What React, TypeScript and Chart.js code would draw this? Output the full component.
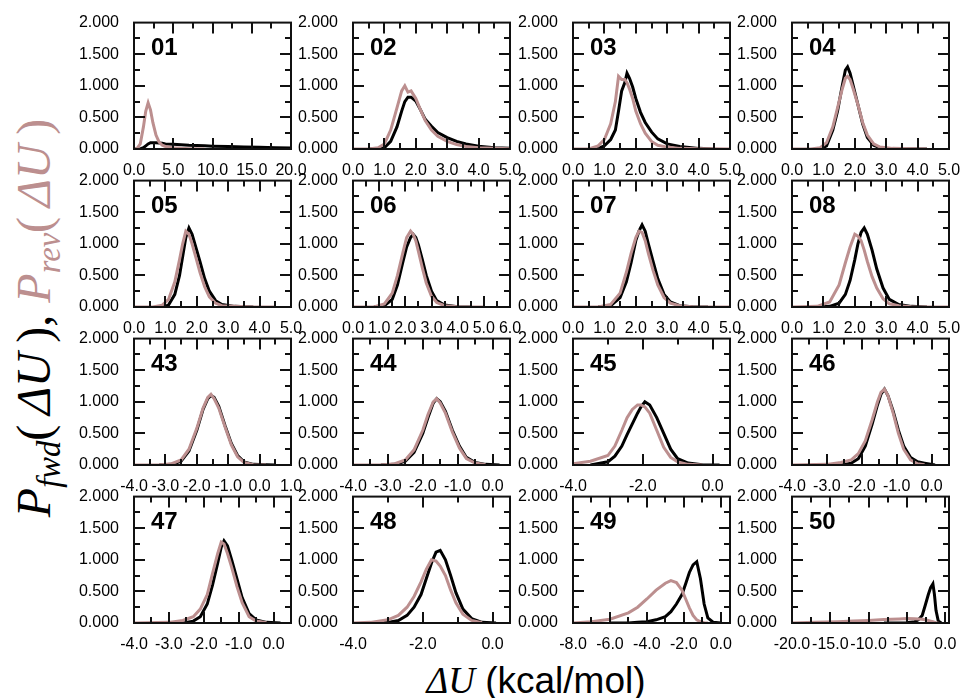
import React, { useEffect, useRef } from "react";
import { Chart, registerables } from "chart.js";

Chart.register(...registerables);

const FWD_COLOR = "#000000";
const REV_COLOR = "#bc8f8f";

// ---- histogram data: ΔU (kcal/mol) grid, forward and reverse densities ----
const x01 = [0, 0.4, 0.8, 1.2, 1.5, 1.8, 2.1, 2.4, 2.8, 3.2, 3.6, 4.0, 5, 6, 7, 8, 9, 10, 12, 14, 16, 18, 20];
const fwd01 = [0, 0, 0, 0.02, 0.05, 0.08, 0.1, 0.1, 0.1, 0.095, 0.09, 0.08, 0.075, 0.068, 0.06, 0.055, 0.05, 0.045, 0.038, 0.032, 0.026, 0.02, 0.015];
const rev01 = [0, 0.01, 0.08, 0.35, 0.6, 0.73, 0.62, 0.42, 0.22, 0.11, 0.06, 0.04, 0.02, 0.01, 0.005, 0.002, 0, null, null, null, null, null, null];

const x02 = [0, 0.5, 0.8, 1.0, 1.2, 1.4, 1.55, 1.65, 1.75, 1.85, 2.0, 2.15, 2.3, 2.5, 2.7, 3.0, 3.3, 3.6, 4.0, 4.5, 5.0];
const fwd02 = [null, 0, 0, 0.02, 0.12, 0.35, 0.6, 0.75, 0.82, 0.82, 0.76, 0.62, 0.47, 0.36, 0.26, 0.18, 0.12, 0.08, 0.045, 0.02, 0.01];
const rev02 = [0, 0, 0.02, 0.08, 0.3, 0.65, 0.92, 1.0, 0.9, 0.92, 0.8, 0.62, 0.45, 0.3, 0.2, 0.12, 0.07, 0.04, 0.02, 0.01, 0.005];

const x03 = [0, 0.5, 0.8, 1.0, 1.2, 1.35, 1.45, 1.55, 1.65, 1.72, 1.8, 1.9, 2.0, 2.15, 2.3, 2.5, 2.7, 3.0, 3.4, 4.0, 4.5, 5.0];
const fwd03 = [null, 0, 0.01, 0.05, 0.15, 0.3, 0.6, 0.92, 1.05, 1.2, 1.12, 0.98, 0.8, 0.58, 0.42, 0.27, 0.16, 0.08, 0.04, 0.01, 0, null];
const rev03 = [0, 0, 0.05, 0.15, 0.4, 0.75, 1.15, 1.1, 1.1, 1.05, 0.95, 0.8, 0.6, 0.4, 0.25, 0.12, 0.06, 0.03, 0.01, 0.005, 0.002, 0];

const x04 = [0, 0.6, 0.9, 1.1, 1.3, 1.45, 1.6, 1.7, 1.77, 1.85, 1.95, 2.1, 2.25, 2.4, 2.6, 2.8, 3.2, 3.8, 4.3, 5];
const fwd04 = [null, null, 0, 0.05, 0.3, 0.6, 1.0, 1.25, 1.3, 1.2, 1.0, 0.7, 0.4, 0.18, 0.06, 0.02, 0, 0, 0, null];
const rev04 = [0, 0, 0.02, 0.1, 0.35, 0.65, 0.95, 1.12, 1.15, 1.1, 0.95, 0.7, 0.42, 0.22, 0.08, 0.03, 0.01, 0.005, 0, null];

const x05 = [0, 0.6, 0.9, 1.1, 1.3, 1.45, 1.55, 1.65, 1.75, 1.85, 1.95, 2.1, 2.25, 2.4, 2.6, 2.8, 3.2, 3.8, 4.5, 5];
const fwd05 = [null, null, 0, 0.03, 0.2, 0.5, 0.8, 1.1, 1.25, 1.15, 0.98, 0.72, 0.45, 0.25, 0.1, 0.04, 0.01, 0, null, null];
const rev05 = [0, 0, 0.03, 0.12, 0.4, 0.75, 1.0, 1.2, 1.15, 1.0, 0.82, 0.55, 0.32, 0.16, 0.06, 0.02, 0.01, 0, 0, null];

const x06 = [0, 0.8, 1.2, 1.5, 1.7, 1.9, 2.05, 2.2, 2.3, 2.4, 2.5, 2.65, 2.8, 3.0, 3.2, 3.5, 4.0, 4.5, 5.0];
const fwd06 = [null, 0, 0.02, 0.12, 0.35, 0.7, 0.95, 1.1, 1.15, 1.1, 0.98, 0.75, 0.5, 0.25, 0.1, 0.03, 0.005, 0, null];
const rev06 = [0, 0, 0.05, 0.22, 0.5, 0.85, 1.1, 1.2, 1.15, 1.05, 0.88, 0.62, 0.38, 0.17, 0.07, 0.02, 0.005, 0, 0];

const x07 = [0, 0.8, 1.2, 1.5, 1.7, 1.85, 2.0, 2.1, 2.2, 2.3, 2.4, 2.55, 2.7, 2.9, 3.1, 3.4, 3.8, 4.3, 5];
const fwd07 = [null, 0, 0.02, 0.15, 0.4, 0.7, 1.05, 1.2, 1.3, 1.2, 1.0, 0.72, 0.45, 0.2, 0.08, 0.02, 0.005, 0, null];
const rev07 = [0, 0, 0.04, 0.22, 0.55, 0.85, 1.1, 1.2, 1.18, 1.05, 0.85, 0.58, 0.35, 0.15, 0.06, 0.02, 0.005, 0, 0];

const x08 = [0, 0.8, 1.2, 1.5, 1.7, 1.85, 2.0, 2.1, 2.2, 2.3, 2.4, 2.55, 2.7, 2.9, 3.1, 3.4, 3.8, 4.3, 5];
const fwd08 = [null, 0, 0.01, 0.06, 0.2, 0.42, 0.75, 1.0, 1.18, 1.25, 1.15, 0.9, 0.6, 0.3, 0.12, 0.04, 0.01, 0, null];
const rev08 = [0, 0.01, 0.08, 0.35, 0.7, 0.95, 1.15, 1.12, 1.05, 0.9, 0.72, 0.48, 0.3, 0.13, 0.05, 0.02, 0.005, 0, 0];

const x43 = [-4, -3.2, -2.8, -2.5, -2.25, -2.0, -1.8, -1.65, -1.55, -1.45, -1.3, -1.1, -0.9, -0.7, -0.5, -0.2, 0.2, 0.5];
const fwd43 = [null, 0, 0.01, 0.06, 0.22, 0.55, 0.88, 1.05, 1.1, 1.07, 0.93, 0.62, 0.34, 0.15, 0.05, 0.01, 0.003, 0];
const rev43 = [0, 0, 0.02, 0.08, 0.25, 0.58, 0.9, 1.07, 1.12, 1.05, 0.9, 0.6, 0.32, 0.13, 0.04, 0.005, 0, null];

const x44 = [-4, -3.2, -2.8, -2.5, -2.25, -2.0, -1.85, -1.7, -1.6, -1.5, -1.35, -1.15, -0.95, -0.75, -0.5, -0.2, 0.2];
const fwd44 = [null, 0, 0.01, 0.06, 0.2, 0.5, 0.75, 0.98, 1.05, 1.0, 0.85, 0.55, 0.3, 0.12, 0.04, 0.01, 0];
const rev44 = [0, 0, 0.02, 0.08, 0.24, 0.55, 0.8, 1.0, 1.05, 0.98, 0.82, 0.52, 0.27, 0.1, 0.03, 0.005, null];

const x45 = [-4, -3.5, -3.0, -2.8, -2.6, -2.45, -2.3, -2.15, -2.05, -1.94, -1.8, -1.6, -1.4, -1.2, -1.0, -0.7, -0.3, 0.2];
const fwd45 = [null, 0, 0.05, 0.14, 0.3, 0.48, 0.65, 0.82, 0.92, 1.0, 0.95, 0.75, 0.5, 0.25, 0.1, 0.03, 0.005, 0];
const rev45 = [0.02, 0.06, 0.15, 0.3, 0.55, 0.75, 0.88, 0.95, 0.95, 0.92, 0.82, 0.55, 0.28, 0.12, 0.05, 0.01, 0, null];

const x46 = [-4, -3, -2.6, -2.3, -2.1, -1.9, -1.7, -1.55, -1.45, -1.35, -1.25, -1.1, -0.95, -0.8, -0.6, -0.4, -0.2, 0.1];
const fwd46 = [null, null, 0, 0.03, 0.1, 0.3, 0.65, 0.95, 1.12, 1.2, 1.1, 0.85, 0.55, 0.3, 0.12, 0.05, 0.03, 0];
const rev46 = [0, 0.01, 0.04, 0.08, 0.18, 0.38, 0.72, 1.0, 1.15, 1.2, 1.1, 0.82, 0.5, 0.25, 0.08, 0.02, 0.005, null];

const x47 = [-4, -3, -2.6, -2.3, -2.1, -1.9, -1.75, -1.6, -1.5, -1.42, -1.32, -1.2, -1.05, -0.9, -0.7, -0.5, -0.2, 0.2];
const fwd47 = [null, null, 0, 0.03, 0.1, 0.3, 0.6, 0.95, 1.2, 1.3, 1.22, 1.0, 0.7, 0.4, 0.15, 0.05, 0.01, 0];
const rev47 = [0, 0.01, 0.04, 0.1, 0.22, 0.45, 0.78, 1.1, 1.28, 1.25, 1.1, 0.88, 0.58, 0.32, 0.1, 0.03, 0.005, null];

const x48 = [-4, -3.5, -3.0, -2.7, -2.45, -2.25, -2.05, -1.9, -1.75, -1.62, -1.5, -1.35, -1.2, -1.05, -0.85, -0.6, -0.3, 0.1];
const fwd48 = [null, 0, 0.01, 0.04, 0.12, 0.25, 0.45, 0.7, 0.95, 1.12, 1.15, 1.0, 0.75, 0.48, 0.22, 0.07, 0.01, 0];
const rev48 = [0, 0.01, 0.05, 0.12, 0.25, 0.42, 0.65, 0.85, 1.0, 0.98, 0.9, 0.75, 0.52, 0.32, 0.14, 0.04, 0.005, null];

const x49 = [-8, -7, -6, -5, -4.5, -4, -3.5, -3, -2.7, -2.4, -2.1, -1.9, -1.7, -1.5, -1.3, -1.1, -0.9, -0.7, -0.4, 0];
const fwd49 = [null, null, 0, 0, 0.01, 0.02, 0.05, 0.1, 0.18, 0.3, 0.45, 0.62, 0.8, 0.92, 0.97, 0.7, 0.3, 0.08, 0.01, 0];
const rev49 = [0, 0.02, 0.06, 0.16, 0.25, 0.38, 0.52, 0.63, 0.67, 0.64, 0.52, 0.38, 0.24, 0.12, 0.05, 0.02, 0.005, 0, null, null];

const x50 = [-20, -17, -14, -12, -10, -8, -6, -5, -4, -3.5, -3, -2.6, -2.2, -1.9, -1.6, -1.4, -1.2, -0.9, -0.5, 0];
const fwd50 = [null, null, null, null, null, 0, 0, 0.005, 0.02, 0.05, 0.12, 0.28, 0.45, 0.56, 0.62, 0.45, 0.2, 0.03, 0, null];
const rev50 = [0, 0.01, 0.02, 0.03, 0.04, 0.055, 0.065, 0.07, 0.068, 0.065, 0.06, 0.05, 0.04, 0.03, 0.02, 0.012, 0.006, 0, null, null];

// ---- axis ranges and tick labels ----
const yTicks = [0, 0.5, 1.0, 1.5, 2.0];
const xTicks0to20 = [0, 5, 10, 15, 20];
const xTicks0to5 = [0, 1, 2, 3, 4, 5];
const xTicks0to6 = [0, 1, 2, 3, 4, 5, 6];
const xTicksNeg4to1 = [-4, -3, -2, -1, 0, 1];
const xTicksNeg4to0 = [-4, -3, -2, -1, 0];
const xTicksNeg4by2 = [-4, -2, 0];
const xTicksNeg8by2 = [-8, -6, -4, -2, 0];
const xTicksNeg20by5 = [-20, -15, -10, -5, 0];

type Series = (number | null)[];
type Panel = {
  tag: string;
  x: number[];
  fwd: Series;
  rev: Series;
  range: [number, number];
  ticks: number[];
  minor: number;
};

const panels: Panel[] = [
  { tag: "01", x: x01, fwd: fwd01, rev: rev01, range: [0, 20], ticks: xTicks0to20, minor: 2.5 },
  { tag: "02", x: x02, fwd: fwd02, rev: rev02, range: [0, 5], ticks: xTicks0to5, minor: 0.5 },
  { tag: "03", x: x03, fwd: fwd03, rev: rev03, range: [0, 5], ticks: xTicks0to5, minor: 0.5 },
  { tag: "04", x: x04, fwd: fwd04, rev: rev04, range: [0, 5], ticks: xTicks0to5, minor: 0.5 },
  { tag: "05", x: x05, fwd: fwd05, rev: rev05, range: [0, 5], ticks: xTicks0to5, minor: 0.5 },
  { tag: "06", x: x06, fwd: fwd06, rev: rev06, range: [0, 6], ticks: xTicks0to6, minor: 0.5 },
  { tag: "07", x: x07, fwd: fwd07, rev: rev07, range: [0, 5], ticks: xTicks0to5, minor: 0.5 },
  { tag: "08", x: x08, fwd: fwd08, rev: rev08, range: [0, 5], ticks: xTicks0to5, minor: 0.5 },
  { tag: "43", x: x43, fwd: fwd43, rev: rev43, range: [-4, 1], ticks: xTicksNeg4to1, minor: 0.5 },
  { tag: "44", x: x44, fwd: fwd44, rev: rev44, range: [-4, 0.5], ticks: xTicksNeg4to0, minor: 0.5 },
  { tag: "45", x: x45, fwd: fwd45, rev: rev45, range: [-4, 0.5], ticks: xTicksNeg4by2, minor: 1 },
  { tag: "46", x: x46, fwd: fwd46, rev: rev46, range: [-4, 0.5], ticks: xTicksNeg4to0, minor: 0.5 },
  { tag: "47", x: x47, fwd: fwd47, rev: rev47, range: [-4, 0.5], ticks: xTicksNeg4to0, minor: 0.5 },
  { tag: "48", x: x48, fwd: fwd48, rev: rev48, range: [-4, 0.5], ticks: xTicksNeg4by2, minor: 1 },
  { tag: "49", x: x49, fwd: fwd49, rev: rev49, range: [-8, 0.5], ticks: xTicksNeg8by2, minor: 1 },
  { tag: "50", x: x50, fwd: fwd50, rev: rev50, range: [-20, 0.5], ticks: xTicksNeg20by5, minor: 2.5 },
];

// ---- grid geometry (page pixels) ----
const COL_LEFT = [134, 353, 573, 792];
const ROW_TOP = [20, 178, 336, 494];
const PLOT_W = 157;
const PLOT_H = 129;
const AXIS_W = 62; // room for y tick labels
const AXIS_H = 26; // room for x tick labels
const PAD_T = 14;
const PAD_R = 24;

const SANS = "'Liberation Sans', Arial, Helvetica, sans-serif";
const SERIF = "'Liberation Serif', 'Times New Roman', serif";

// Frame with inward major/minor ticks on all four sides, plus the window tag
const framePlugin = {
  id: "frameTicks",
  afterDatasetsDraw(chart: any, _args: any, opts: any) {
    const { ctx, chartArea: a, scales } = chart;
    const xs = scales.x;
    const ys = scales.y;
    const MAJ = 11;
    const MIN = 6;
    ctx.save();
    ctx.strokeStyle = "#111";
    ctx.lineWidth = 2;
    ctx.lineCap = "butt";

    const vTick = (px: number, len: number) => {
      if (px < a.left + 1.5 || px > a.right - 1.5) return;
      ctx.beginPath();
      ctx.moveTo(px, a.bottom);
      ctx.lineTo(px, a.bottom - len);
      ctx.moveTo(px, a.top);
      ctx.lineTo(px, a.top + len);
      ctx.stroke();
    };
    const hTick = (py: number, len: number) => {
      if (py < a.top + 1.5 || py > a.bottom - 1.5) return;
      ctx.beginPath();
      ctx.moveTo(a.left, py);
      ctx.lineTo(a.left + len, py);
      ctx.moveTo(a.right, py);
      ctx.lineTo(a.right - len, py);
      ctx.stroke();
    };

    const majors: number[] = opts.ticks || [];
    const step: number = opts.minor || 0;
    const [lo, hi] = opts.range || [xs.min, xs.max];
    if (step > 0) {
      const start = Math.ceil(lo / step - 1e-9);
      const end = Math.floor(hi / step + 1e-9);
      for (let k = start; k <= end; k++) {
        const v = k * step;
        if (majors.some((m) => Math.abs(m - v) < 1e-9)) continue;
        vTick(Math.round(xs.getPixelForValue(v)), MIN);
      }
    }
    majors.forEach((v) => vTick(Math.round(xs.getPixelForValue(v)), MAJ));

    yTicks.forEach((v) => hTick(Math.round(ys.getPixelForValue(v)), MAJ));
    for (let i = 0; i < yTicks.length - 1; i++) {
      const mid = (yTicks[i] + yTicks[i + 1]) / 2;
      hTick(Math.round(ys.getPixelForValue(mid)), MIN);
    }

    ctx.strokeRect(a.left, a.top, a.right - a.left, a.bottom - a.top);

    if (opts.tag) {
      ctx.fillStyle = "#000";
      ctx.font = `bold 24px ${SANS}`;
      ctx.textAlign = "left";
      ctx.textBaseline = "alphabetic";
      ctx.fillText(opts.tag, a.left + 17, a.top + 32);
    }
    ctx.restore();
  },
};

function PanelChart({ p, left, top }: { p: Panel; left: number; top: number }) {
  const ref = useRef<HTMLCanvasElement | null>(null);
  const width = AXIS_W + PLOT_W + PAD_R;
  const height = PAD_T + PLOT_H + AXIS_H;

  useEffect(() => {
    if (!ref.current) return;
    const pts = (ys: Series) => p.x.map((x, i) => ({ x, y: ys[i] }));
    const chart = new Chart(ref.current, {
      type: "line",
      data: {
        datasets: [
          {
            label: "rev",
            data: pts(p.rev) as any,
            borderColor: REV_COLOR,
            borderWidth: 3,
            pointRadius: 0,
            tension: 0,
            fill: false,
            spanGaps: false,
          },
          {
            label: "fwd",
            data: pts(p.fwd) as any,
            borderColor: FWD_COLOR,
            borderWidth: 3,
            pointRadius: 0,
            tension: 0,
            fill: false,
            spanGaps: false,
          },
        ],
      },
      options: {
        responsive: false,
        animation: false,
        devicePixelRatio: 1,
        layout: { padding: { left: 0, top: PAD_T, right: PAD_R, bottom: 0 } },
        plugins: {
          legend: { display: false },
          tooltip: { enabled: false },
          frameTicks: { tag: p.tag, ticks: p.ticks, minor: p.minor, range: p.range },
        } as any,
        scales: {
          x: {
            type: "linear",
            min: p.range[0],
            max: p.range[1],
            grid: { display: false },
            border: { display: false },
            afterBuildTicks: (s: any) => {
              s.ticks = p.ticks.map((v) => ({ value: v }));
            },
            afterFit: (s: any) => {
              s.height = AXIS_H;
            },
            ticks: {
              autoSkip: false,
              maxRotation: 0,
              minRotation: 0,
              padding: 4,
              color: "#000",
              font: { family: SANS, size: 16 },
              callback: (v: any) => Number(v).toFixed(1),
            },
          },
          y: {
            type: "linear",
            min: 0,
            max: 2,
            grid: { display: false },
            border: { display: false },
            afterBuildTicks: (s: any) => {
              s.ticks = yTicks.map((v) => ({ value: v }));
            },
            afterFit: (s: any) => {
              s.width = AXIS_W;
            },
            ticks: {
              autoSkip: false,
              padding: 7,
              color: "#000",
              font: { family: SANS, size: 16 },
              callback: (v: any) => Number(v).toFixed(3),
            },
          },
        },
      },
      plugins: [framePlugin],
    });
    return () => chart.destroy();
  }, [p]);

  return (
    <canvas
      ref={ref}
      width={width}
      height={height}
      style={{
        position: "absolute",
        left: left - AXIS_W,
        top: top - PAD_T,
        width,
        height,
      }}
    />
  );
}

const subStyle: React.CSSProperties = {
  fontSize: "0.68em",
  verticalAlign: "baseline",
  position: "relative",
  top: "0.32em",
};

export default function App() {
  return (
    <div
      style={{
        position: "absolute",
        left: 0,
        top: 0,
        width: 964,
        height: 698,
        background: "#fff",
        overflow: "hidden",
      }}
    >
      {panels.map((p, i) => (
        <PanelChart key={p.tag} p={p} left={COL_LEFT[i % 4]} top={ROW_TOP[Math.floor(i / 4)]} />
      ))}

      {/* y-axis title */}
      <div
        style={{
          position: "absolute",
          left: 34,
          top: 318,
          transform: "translate(-50%, -50%) rotate(-90deg)",
          whiteSpace: "nowrap",
          fontFamily: SERIF,
          fontSize: 48,
          lineHeight: 1,
        }}
      >
        <span style={{ color: FWD_COLOR }}>
          <i>P</i>
          <sub style={subStyle}>
            <i>fwd</i>
          </sub>
          ({"\u2009"}
          <i>ΔU</i>
          {"\u2009"}),{" "}
        </span>
        <span style={{ color: REV_COLOR }}>
          <i>P</i>
          <sub style={subStyle}>
            <i>rev</i>
          </sub>
          ({"\u2009"}
          <i>ΔU</i>
          {"\u2009"})
        </span>
      </div>

      {/* x-axis title */}
      <div
        style={{
          position: "absolute",
          left: 536,
          top: 680,
          transform: "translate(-50%, -50%)",
          whiteSpace: "nowrap",
          fontSize: 37,
          lineHeight: 1,
          color: "#000",
        }}
      >
        <i style={{ fontFamily: SERIF }}>ΔU</i>
        <span style={{ fontFamily: SANS }}> (kcal/mol)</span>
      </div>
    </div>
  );
}
